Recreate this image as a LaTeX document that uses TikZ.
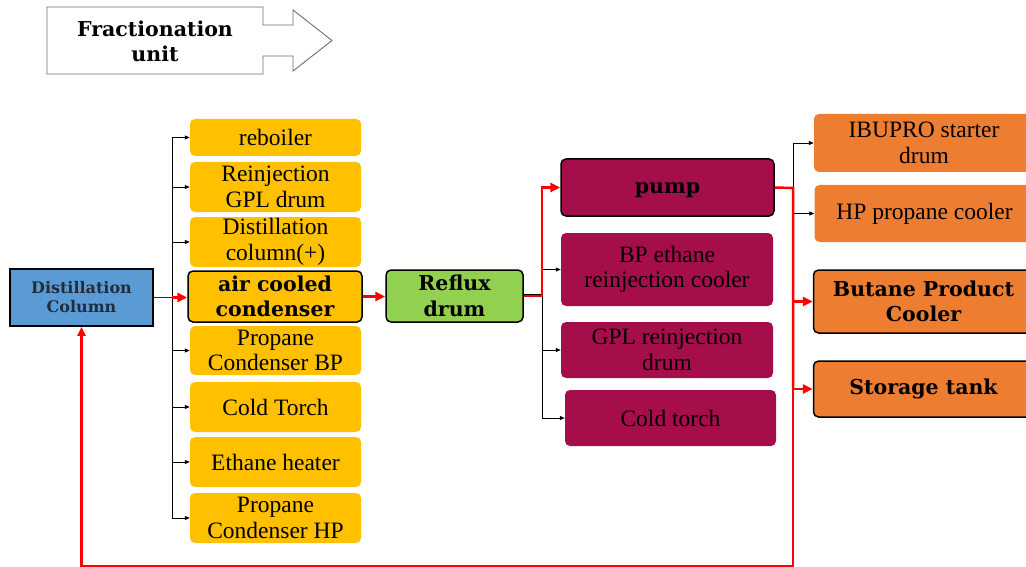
\documentclass[tikz,border=0pt]{standalone}
\usepackage{fontspec}
\setmainfont{Liberation Serif}
\newfontfamily\slab{DejaVu Serif}
\usetikzlibrary{arrows.meta}

\definecolor{yelw}{HTML}{FFC000}
\definecolor{lgreen}{HTML}{92D050}
\definecolor{maroon}{HTML}{A50D4B}
\definecolor{orng}{HTML}{ED7D31}
\definecolor{sky}{HTML}{5B9BD5}
\definecolor{navy}{HTML}{1F2D3D}
\definecolor{outline}{HTML}{6E6E6E}

\begin{document}
\begin{tikzpicture}[x=1pt,y=-1pt,
  box/.style={rounded corners=5pt, inner sep=0pt, align=center,
    font=\fontsize{23.5}{25.5}\selectfont},
  boldtext/.style={font=\slab\bfseries\fontsize{20.5}{25.5}\selectfont},
  framed/.style={draw=black, line width=1.5pt},
  ybox/.style={box, fill=yelw, minimum width=171pt},
  mbox/.style={box, fill=maroon},
  obox/.style={box, fill=orng, minimum width=220pt},
  bline/.style={draw=black, line width=0.8pt},
  barrow/.style={bline, -{Triangle[length=5pt,width=4pt]}},
  rline/.style={draw=red, line width=2.5pt},
  rarrow/.style={rline, -{Triangle[length=10pt,width=9pt]}}
]
\useasboundingbox (0,0) rectangle (1026,567);
\clip (0,0) rectangle (1026,567);

% title block arrow
\draw[outline, line width=0.9pt, fill=white]
  (47,7) -- (263,7) -- (263,25) -- (293,25) -- (293,10) -- (332,40.5)
  -- (293,71) -- (293,56) -- (263,56) -- (263,74) -- (47,74) -- cycle;
\node[boldtext, align=center, inner sep=0pt] (title) at (155,41.5) {Fractionation\\unit};

% column
\node[draw=black, line width=1.6pt, fill=sky, minimum width=143pt, minimum height=57pt,
  inner sep=0pt, align=center, text=navy,
  font=\slab\bfseries\fontsize{16}{19}\selectfont] (dc) at (81.5,297.5) {Distillation\\Column};

% overhead equipment
\node[ybox, minimum height=37pt] (reb) at (275.5,137.5) {reboiler};
\node[ybox, minimum height=50pt] (rgd) at (275.5,187) {Reinjection\\GPL drum};
\node[ybox, minimum height=50pt] (dcp) at (275.5,242) {Distillation\\column(+)};
\node[ybox, framed, boldtext, minimum width=174pt, minimum height=51pt] (acc) at (275,296.5) {air cooled\\condenser};
\node[ybox, minimum height=49pt] (pcb) at (275.5,350.5) {Propane\\Condenser BP};
\node[ybox, minimum height=50pt] (ct) at (275.5,407) {Cold Torch};
\node[ybox, minimum height=50pt] (eh) at (275.5,462) {Ethane heater};
\node[ybox, minimum height=50pt] (pch) at (275.5,518) {Propane\\Condenser HP};

% reflux drum
\node[box, framed, boldtext, fill=lgreen, minimum width=137pt, minimum height=52pt] (rd) at (454.5,296) {Reflux\\drum};

% reflux drum outlets
\node[mbox, framed, boldtext, minimum width=213pt, minimum height=57pt,
  text height=15pt, text depth=3pt] (pump) at (667.5,187.5) {pump};
\node[mbox, minimum width=212pt, minimum height=73pt] (bpe) at (667,269.5) {BP ethane\\reinjection cooler};
\node[mbox, minimum width=212pt, minimum height=56pt] (gpl) at (667,350) {GPL reinjection\\drum};
\node[mbox, minimum width=211pt, minimum height=56pt] (ctm) at (670.5,418) {Cold torch};

% pump discharge
\node[obox, minimum height=58pt] (ibu) at (924,143) {IBUPRO starter\\drum};
\node[obox, minimum height=57pt] (hpp) at (924.5,213.5) {HP propane cooler};
\node[obox, framed, boldtext, minimum height=63pt] (bpc) at (923.5,301.5) {Butane Product\\Cooler};
\node[obox, framed, boldtext, minimum height=56pt] (st) at (923.5,389) {Storage tank};

% column overhead to condenser bank
\coordinate (tr) at (172,297);
\draw[bline] (tr |- reb.west) -- (tr |- pch.west);
\foreach \n in {reb,rgd,dcp,pcb,ct,eh,pch}
  \draw[barrow] (tr |- \n.west) -- (\n.west);
\draw[draw=red!55!black, line width=1.8pt] (dc.east) -- (dc.east -| tr);
\draw[rarrow] (dc.east -| tr) -- (dc.east -| acc.west);

% condenser to reflux drum
\draw[rarrow] (acc.east) -- (acc.east -| rd.west);

% reflux drum distribution
\coordinate (j) at (542,296);
\draw[bline] ([yshift=1.5pt]rd.east) -- ([yshift=1.5pt]j) -- (j |- ctm.west);
\foreach \n in {bpe,gpl,ctm}
  \draw[barrow] (j |- \n.west) -- (\n.west);
\draw[draw=red, line width=2pt] (rd.east) -- (j);
\draw[rarrow] (j) |- (pump.west);

% pump discharge distribution and recycle to the column
\coordinate (k) at (793,188);
\coordinate (br) at (793,566);
\draw[bline] (k |- ibu.west) -- (k);
\draw[barrow] (k |- ibu.west) -- (ibu.west);
\draw[barrow] (k |- hpp.west) -- (hpp.west);
\draw[rarrow] (k |- bpc.west) -- (bpc.west);
\draw[rarrow] (k |- st.west) -- (st.west);
\draw[draw=red, line width=2.5pt] (pump.east) -- (k) -- (k |- st.west);
\draw[draw=red, line width=2.2pt, -{Triangle[length=9pt,width=8pt]}]
  (k |- st.west) -- (br) -| (dc.south);
\end{tikzpicture}
\end{document}
